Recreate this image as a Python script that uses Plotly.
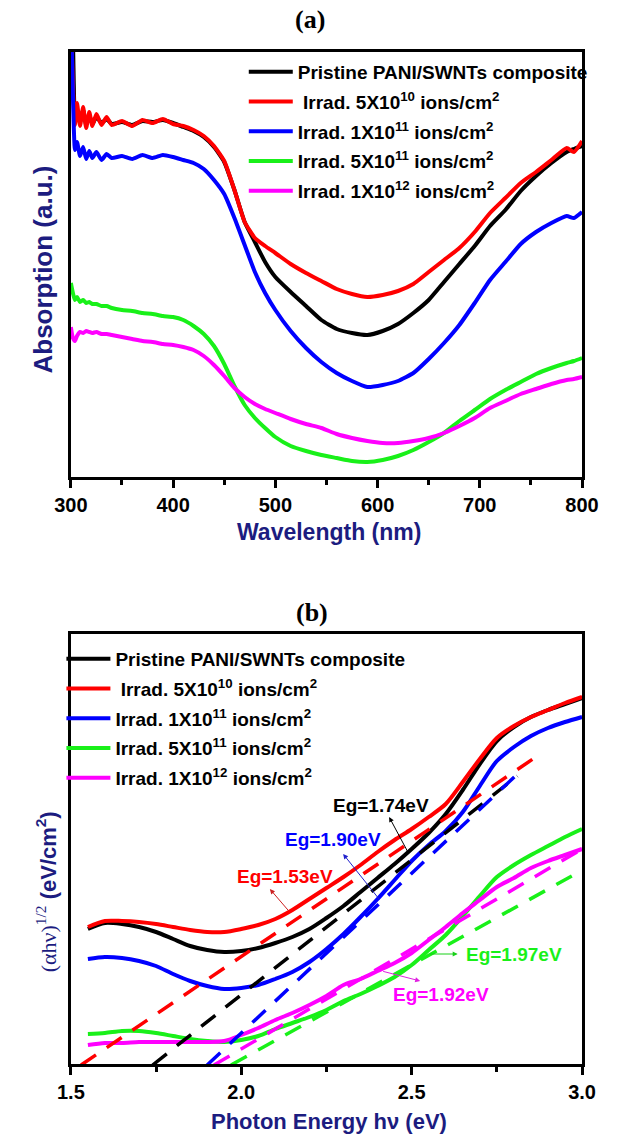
import plotly.graph_objects as go

# ---------------- Panel (a) data: UV-Vis absorption (a.u.) ----------------
wavelength = [300, 302, 304, 306, 309, 312, 315, 318, 321, 325, 330, 335, 340,
              350, 360, 370, 380, 390, 400, 410, 420, 430, 440, 450, 460, 470,
              480, 490, 500, 515, 530, 545, 560, 575, 590, 605, 620, 635, 650,
              665, 680, 695, 710, 725, 740, 755, 770, 785, 792, 800]

abs_pristine = [467, 437, 359, 367, 355, 367, 352, 362, 353, 360,
                354, 358, 353, 355, 352, 356, 355, 357, 354, 350,
                346, 340, 330, 315, 287, 255, 235, 215, 200, 185,
                171, 157, 148, 144, 142, 146, 153, 164, 177, 195,
                213, 231, 251, 267, 286, 301, 314, 325, 328, 331]
abs_5e10 = [457, 392, 352, 374, 351, 370, 349, 365, 351, 363,
            352, 360, 352, 356, 351, 357, 354, 358, 353, 351,
            347, 341, 331, 316, 287, 255, 239, 231, 224, 213,
            204, 196, 188, 183, 180, 182, 186, 193, 205, 217,
            229, 245, 264, 279, 294, 305, 317, 329, 325, 336]
abs_1e11 = [467, 382, 327, 335, 321, 330, 318, 326, 319, 325,
            317, 323, 319, 321, 318, 322, 319, 322, 320, 317,
            314, 308, 297, 283, 259, 232, 205, 184, 167, 146,
            129, 115, 104, 96, 90, 92, 96, 104, 118, 134,
            152, 174, 197, 215, 233, 245, 254, 261, 259, 265]
abs_5e11 = [194, 184, 177, 180, 175, 177, 174, 175, 173, 173,
            171, 171, 169, 167, 166, 164, 163, 161, 160, 157,
            151, 143, 131, 113, 91, 72, 59, 49, 40, 31,
            26, 22, 19, 16, 15, 17, 21, 27, 35, 44,
            56, 67, 78, 87, 95, 103, 109, 114, 116, 119]
abs_1e12 = [150, 139, 136, 141, 145, 144, 146, 145, 144, 145,
            143, 143, 142, 140, 138, 136, 135, 133, 132, 130,
            127, 121, 112, 101, 89, 80, 73, 68, 64, 58,
            53, 49, 43, 39, 36, 34, 34, 36, 39, 44,
            51, 59, 69, 76, 83, 88, 93, 97, 98, 100]

# ---------------- Panel (b) data: Tauc plot ----------------
energy = [1.55, 1.60, 1.65, 1.70, 1.75, 1.80, 1.85, 1.90, 1.95, 2.00,
          2.05, 2.10, 2.15, 2.20, 2.25, 2.30, 2.35, 2.40, 2.45, 2.50,
          2.55, 2.60, 2.65, 2.70, 2.75, 2.80, 2.85, 2.90, 2.95, 3.00]

tauc_pristine = [136, 142, 141, 138, 133, 126, 119, 115, 113, 114,
                 117, 122, 128, 136, 147, 159, 173, 187, 201, 216,
                 232, 251, 275, 301, 324, 338, 348, 355, 361, 367]
tauc_5e10 = [138, 144, 144, 143, 141, 138, 135, 133, 133, 136,
             140, 146, 155, 166, 177, 188, 200, 213, 225, 236,
             248, 261, 283, 306, 327, 339, 348, 355, 362, 368]
tauc_1e11 = [106, 108, 107, 104, 99, 91, 84, 79, 76, 77,
             80, 86, 93, 103, 116, 131, 148, 166, 185, 204,
             220, 234, 253, 279, 304, 318, 329, 337, 343, 348]
tauc_5e11 = [31, 32, 34, 34, 32, 29, 26, 24, 23, 25,
             29, 36, 42, 48, 55, 64, 71, 79, 88, 100,
             115, 130, 149, 169, 188, 200, 210, 219, 228, 236]
tauc_1e12 = [20, 22, 22, 23, 23, 23, 23, 23, 24, 30,
             37, 45, 52, 60, 69, 80, 86, 94, 102, 112,
             125, 138, 152, 165, 178, 187, 197, 204, 210, 216]

# Linear fits (tangent extrapolations): intercept Eg and end point
eg_values = [1.74, 1.53, 1.90, 1.97, 1.92]
fit_end_energy = [2.81, 2.86, 2.82, 2.97, 3.00]
fit_end_value = [289, 307, 294, 189, 216]
eg_labels = ["Eg=1.74eV", "Eg=1.53eV", "Eg=1.90eV", "Eg=1.97eV", "Eg=1.92eV"]

series_names = [
    "Pristine PANI/SWNTs composite",
    "\u00a0Irrad. 5X10<sup>10</sup> ions/cm<sup>2</sup>",
    "Irrad. 1X10<sup>11</sup> ions/cm<sup>2</sup>",
    "Irrad. 5X10<sup>11</sup> ions/cm<sup>2</sup>",
    "Irrad. 1X10<sup>12</sup> ions/cm<sup>2</sup>",
]
colors = ["#000000", "#ff0000", "#0000ff", "#19f019", "#ff00ff"]

abs_series = [abs_pristine, abs_5e10, abs_1e11, abs_5e11, abs_1e12]
tauc_series = [tauc_pristine, tauc_5e10, tauc_1e11, tauc_5e11, tauc_1e12]

NAVY = "#1c1c80"
SANS = "Liberation Sans, Arial, sans-serif"
SERIF = "Liberation Serif, Times New Roman, serif"

fig = go.Figure()

for i in range(5):
    fig.add_trace(go.Scatter(
        x=wavelength, y=abs_series[i], mode="lines", name=series_names[i],
        line=dict(color=colors[i], width=4, shape="spline", smoothing=0.5),
        xaxis="x", yaxis="y", legend="legend", legendgroup="a%d" % i))

for i in range(5):
    fig.add_trace(go.Scatter(
        x=energy, y=tauc_series[i], mode="lines", name=series_names[i],
        line=dict(color=colors[i], width=4, shape="spline", smoothing=0.8),
        xaxis="x2", yaxis="y2", legend="legend2", legendgroup="b%d" % i))

for i in range(5):
    fig.add_trace(go.Scatter(
        x=[eg_values[i], fit_end_energy[i]], y=[0, fit_end_value[i]],
        mode="lines", line=dict(color=colors[i], width=3.5, dash="18px,13px"),
        xaxis="x2", yaxis="y2", showlegend=False, hoverinfo="skip"))

xdom = [57 / 617, 598 / 617]
axis_common = dict(showline=True, linecolor="black", linewidth=3, mirror=True,
                   showgrid=False, zeroline=False)
tick_font = dict(family=SANS, size=20, color="black", weight="bold")
legend_font = dict(family=SANS, size=19, color="black", weight="bold")

fig.update_layout(
    width=617, height=1134,
    margin=dict(l=0, r=0, t=0, b=0),
    paper_bgcolor="white", plot_bgcolor="white",
    xaxis=dict(domain=xdom, anchor="y", range=[300, 800],
               tickvals=[300, 400, 500, 600, 700, 800],
               ticks="outside", ticklen=8, tickwidth=3, tickcolor="black",
               minor=dict(dtick=50, ticks="outside", ticklen=5, tickwidth=3, tickcolor="black"),
               tickfont=tick_font, **axis_common),
    yaxis=dict(domain=[1 - 477 / 1134, 1 - 52 / 1134], anchor="x", range=[0, 425],
               showticklabels=False, ticks="", **axis_common),
    xaxis2=dict(domain=xdom, anchor="y2", range=[1.5, 3.0],
                tickvals=[1.5, 2.0, 2.5, 3.0], ticktext=["1.5", "2.0", "2.5", "3.0"],
                ticks="outside", ticklen=8, tickwidth=3, tickcolor="black",
                minor=dict(dtick=0.25, ticks="outside", ticklen=5, tickwidth=3, tickcolor="black"),
                tickfont=tick_font, **axis_common),
    yaxis2=dict(domain=[1 - 1064 / 1134, 1 - 634 / 1134], anchor="x2", range=[1, 431],
                showticklabels=False, ticks="", **axis_common),
    legend=dict(x=240 / 617, y=1 - 53 / 1134, xanchor="left", yanchor="top",
                bgcolor="rgba(0,0,0,0)", borderwidth=0, tracegroupgap=2,
                itemwidth=44, font=legend_font),
    legend2=dict(x=47 / 617, y=1 - 640 / 1134, xanchor="left", yanchor="top",
                 bgcolor="rgba(0,0,0,0)", borderwidth=0, tracegroupgap=2,
                 itemwidth=44, font=legend_font),
    showlegend=True,
)

def paper_text(text, px, py, size, color, family, angle=0):
    return dict(text=text, x=px / 617, y=1 - py / 1134, xref="paper", yref="paper",
                xanchor="center", yanchor="middle", textangle=angle, showarrow=False,
                font=dict(family=family, size=size, color=color))

annotations = [
    paper_text("<b>(a)</b>", 310, 19, 26, "black", SERIF),
    paper_text("<b>(b)</b>", 312, 612, 26, "black", SERIF),
    paper_text("<b>Absorption (a.u.)</b>", 27, 270, 26, NAVY, SANS, -90),
    paper_text("<b>Wavelength (nm)</b>", 330, 532, 23, NAVY, SANS),
    paper_text("<b>Photon Energy h\u03bd (eV)</b>", 330, 1121, 22, NAVY, SANS),
    paper_text("<span style='font-family:Liberation Serif'>(\u03b1h\u03bd)<sup>1/2</sup></span>"
               " <b>(eV/cm<sup>2</sup>)</b>", 31, 892, 22, NAVY, SANS, -90),
]

# Eg labels and arrows in data coordinates of panel (b)
label_pos = [(2.409, 260), (2.128, 189), (2.269, 226), (2.800, 111), (2.585, 71)]
arrow_head = [(2.434, 248), (2.084, 176), (2.299, 211), (2.635, 111), (2.525, 84)]
arrow_tail = [(2.492, 211), (2.142, 153), (2.409, 164), (2.550, 111), (2.412, 94)]
arrow_colors = ["#000000", "#cc2020", "#2020cc", "#19d019", "#e020e0"]
for i in range(5):
    annotations.append(dict(
        text="<b>%s</b>" % eg_labels[i], x=label_pos[i][0], y=label_pos[i][1],
        xref="x2", yref="y2", xanchor="center", yanchor="middle", showarrow=False,
        font=dict(family=SANS, size=19, color=colors[i])))
    annotations.append(dict(
        text="", x=arrow_head[i][0], y=arrow_head[i][1], xref="x2", yref="y2",
        ax=arrow_tail[i][0], ay=arrow_tail[i][1], axref="x2", ayref="y2",
        showarrow=True, arrowhead=2, arrowsize=1, arrowwidth=1,
        arrowcolor=arrow_colors[i]))

fig.update_layout(annotations=annotations)

fig.write_html("out.html",
               config={"displayModeBar": False},
               post_script="document.body.style.margin='0';document.body.style.overflow='hidden';")
